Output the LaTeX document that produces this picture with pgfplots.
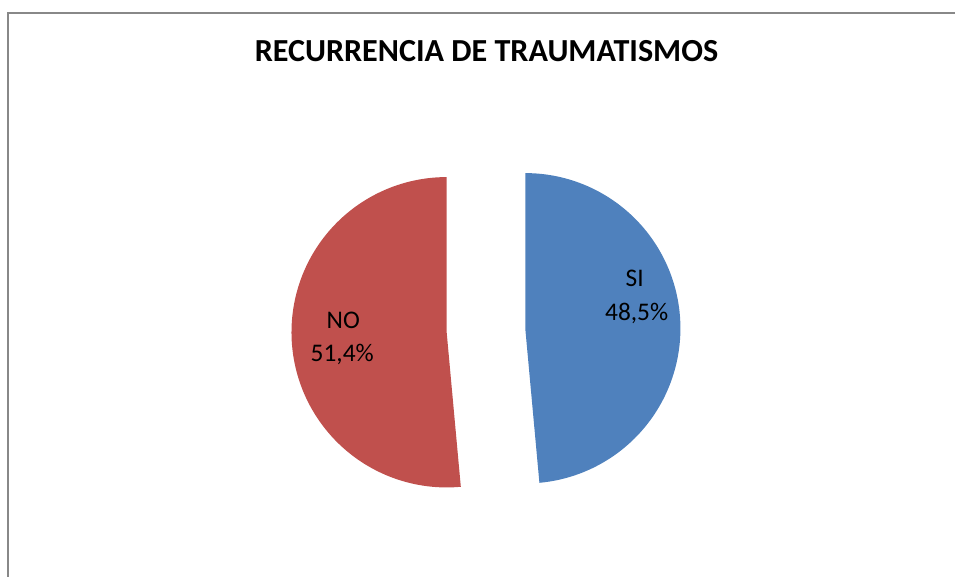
\documentclass[border=0pt]{standalone}
\usepackage{pgfplots}
\pgfplotsset{compat=1.18}
\usepackage{fontspec}
\setmainfont{Carlito}
\definecolor{siblue}{HTML}{4F81BD}
\definecolor{nored}{HTML}{C0504D}
\definecolor{frame}{HTML}{888888}
\begin{document}
\begin{tikzpicture}
\begin{axis}[
  at={(0,0)}, anchor=south west,
  scale only axis, width=956pt, height=580pt,
  xmin=0, xmax=956, ymin=0, ymax=580,
  axis lines=none, clip=false,
]
% chart frame
\draw[frame, line width=2pt] (axis cs:8,0) -- (axis cs:8,567) -- (axis cs:960,567);
% SI: 48.5 %, exploded to the right
\addplot[draw=none, fill=siblue, samples=120, variable=\t,
  domain={90-360*48.5/99.9}:90]
  ({528+156*cos(\t)}, {250+156*sin(\t)}) -- (axis cs:528,250) -- cycle;
% NO: 51.4 %, exploded to the left
\addplot[draw=none, fill=nored, samples=120, variable=\t,
  domain=90:{90+360*51.4/99.9}]
  ({449+156*cos(\t)}, {246+156*sin(\t)}) -- (axis cs:449,246) -- cycle;
% title and labels
\node[anchor=base, font=\bfseries\fontsize{32.3}{38}\selectfont] at (axis cs:489,518) {RECURRENCIA DE TRAUMATISMOS};
\node[anchor=base, font=\fontsize{25.5}{30}\selectfont] at (axis cs:638,292) {SI};
\node[anchor=base, font=\fontsize{25.5}{30}\selectfont] at (axis cs:640,258) {48,5\%};
\node[anchor=base, font=\fontsize{25.5}{30}\selectfont] at (axis cs:345,250) {NO};
\node[anchor=base, font=\fontsize{25.5}{30}\selectfont] at (axis cs:344,217) {51,4\%};
\end{axis}
\path[use as bounding box] (0,0) rectangle (956pt,580pt);
\end{tikzpicture}
\end{document}
